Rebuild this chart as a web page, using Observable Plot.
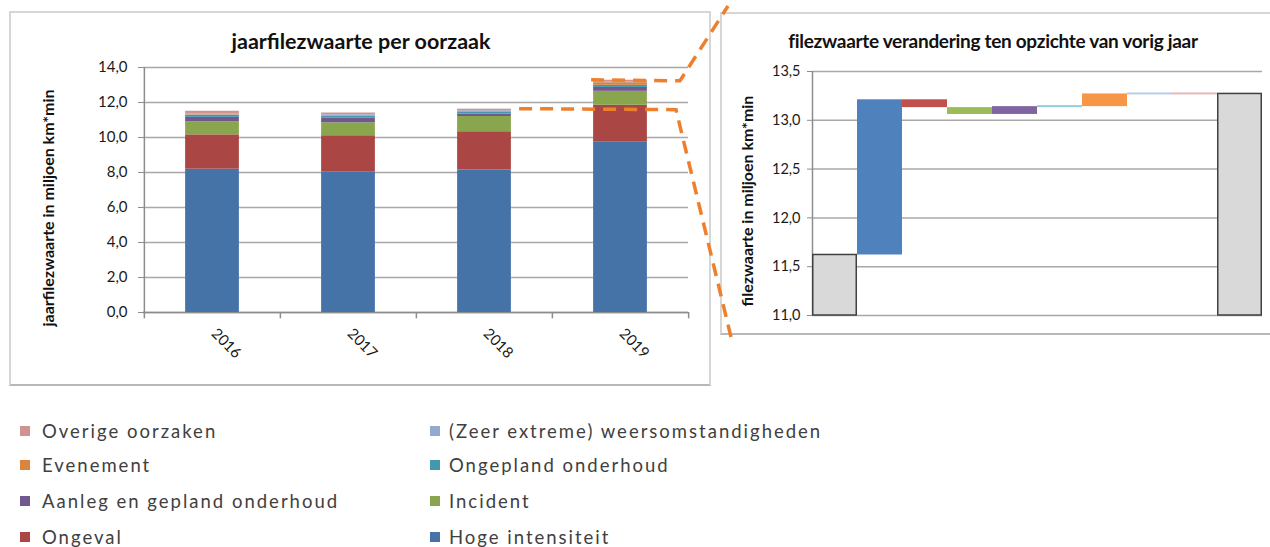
<!DOCTYPE html>
<html><head><meta charset="utf-8">
<script src="https://cdn.jsdelivr.net/npm/d3@7"></script>
<script src="https://cdn.jsdelivr.net/npm/@observablehq/plot@0.6"></script>
<style>
body{margin:0;background:#fff;font-family:Lato,"Open Sans",sans-serif;}
#page{position:relative;width:1270px;height:547px;overflow:hidden;background:#fff;}
.frame{position:absolute;box-sizing:border-box;border:2px solid #d6d6d6;border-bottom-color:#b8b8b8;}
.title{position:absolute;font-weight:bold;color:#111;white-space:nowrap;transform:translate(-50%,-50%);}
.ylab{position:absolute;font-weight:bold;color:#111;white-space:nowrap;transform:translate(-50%,-50%) rotate(-90deg);}
.leg{position:absolute;font-size:18.5px;color:#404040;letter-spacing:2px;white-space:nowrap;transform:translateY(-50%);}
.sw{position:absolute;width:10px;height:10px;transform:translateY(-50%);}
.chart{position:absolute;top:0;}
</style>
</head><body><div id="page"></div>
<script>
// ---------- data ----------
const years = ["2016", "2017", "2018", "2019"];
const causes = ["Hoge intensiteit", "Ongeval", "Incident", "Aanleg en gepland onderhoud",
  "Ongepland onderhoud", "Evenement", "(Zeer extreme) weersomstandigheden", "Overige oorzaken"];
const hogeIntensiteit = [8.19, 8.04, 8.14, 9.73];
const ongeval         = [1.96, 2.06, 2.19, 2.11];
const incident        = [0.75, 0.74, 0.87, 0.80];
const aanleg          = [0.25, 0.26, 0.14, 0.22];
const ongepland       = [0.12, 0.12, 0.12, 0.12];
const evenement       = [0.03, 0.03, 0.02, 0.15];
const weer            = [0.05, 0.05, 0.05, 0.05];
const overige         = [0.15, 0.10, 0.09, 0.09];
const series = [hogeIntensiteit, ongeval, incident, aanleg, ongepland, evenement, weer, overige];
const stackColors = ["#4572A7", "#AA4643", "#89A54E", "#71588F", "#4198AF", "#DB843D", "#93A9CF", "#D19392"];
const waterfallColors = ["#4F81BD", "#C0504D", "#9BBB59", "#8064A2", "#92CDDC", "#F79646", "#B9CDE5", "#E6B9B8"];
const legendRows = [
  ["Overige oorzaken", "(Zeer extreme) weersomstandigheden"],
  ["Evenement", "Ongepland onderhoud"],
  ["Aanleg en gepland onderhoud", "Incident"],
  ["Ongeval", "Hoge intensiteit"]
];
const leftTicks = [0, 2, 4, 6, 8, 10, 12, 14];
const rightTicks = [11, 11.5, 12, 12.5, 13, 13.5];
const leftTitle = "jaarfilezwaarte per oorzaak";
const rightTitle = "filezwaarte verandering ten opzichte van vorig jaar";
const leftYLabel = "jaarfilezwaarte  in  miljoen  km*min";
const rightYLabel = "filezwaarte in miljoen km*min";
const fromYear = "2018", toYear = "2019";

// ---------- helpers ----------
const comma = d => d.toFixed(1).replace(".", ",");
const page = document.getElementById("page");
function el(cls, css, text) {
  const d = document.createElement("div");
  d.className = cls; Object.assign(d.style, css);
  if (text != null) d.textContent = text;
  page.appendChild(d); return d;
}

// frames
el("frame", {left: "9px", top: "11px", width: "702px", height: "375px"});
el("frame", {left: "720px", top: "12px", width: "560px", height: "323px"});

// ---------- left stacked chart ----------
const rows = years.flatMap((y, i) => causes.map((c, j) => ({year: y, cause: c, value: series[j][i]})));
const L = {width: 711, height: 390, left: 143, right: 688, top: 67, bottom: 312};
const bwL = (L.right - L.left) / years.length;
const barW = 54;
const insL = (bwL - barW) / 2;
const axisGray = "#8c8c8c";
const left = Plot.plot({
  width: L.width, height: L.height,
  marginLeft: L.left, marginRight: L.width - L.right, marginTop: L.top, marginBottom: L.height - L.bottom,
  style: {background: "transparent", fontFamily: "Lato, sans-serif", fontSize: "15px", color: "#1a1a1a", overflow: "visible"},
  x: {type: "band", domain: years, padding: 0, axis: null},
  y: {domain: [0, 14], axis: null},
  color: {domain: causes, range: stackColors},
  marks: [
    Plot.gridY(leftTicks, {stroke: "#a8a8a8", strokeOpacity: 1, strokeWidth: 1.5}),
    Plot.axisY(leftTicks, {tickSize: 5, tickPadding: 11, tickFormat: comma, stroke: axisGray, label: null}),
    Plot.ruleX([years[0]], {dx: -bwL / 2, y1: 0, y2: 14, stroke: axisGray, strokeWidth: 1.5}),
    Plot.ruleY([0], {stroke: axisGray, strokeWidth: 1.5}),
    Plot.ruleX(years, {x: d => d, dx: -bwL / 2, y1: 0, y2: -0.36, stroke: axisGray, strokeWidth: 1.5}),
    Plot.ruleX([years[years.length - 1]], {dx: bwL / 2, y1: 0, y2: -0.36, stroke: axisGray, strokeWidth: 1.5}),
    Plot.barY(rows, {x: "year", y: "value", fill: "cause", insetLeft: insL, insetRight: insL}),
    Plot.text(years, {x: d => d, frameAnchor: "bottom", dy: 22, dx: -2, rotate: 45, textAnchor: "start", fontSize: 15, fill: "#1a1a1a"})
  ]
});
left.classList.add("chart"); left.style.left = "0px";
page.appendChild(left);

// ---------- right waterfall chart ----------
const i0 = years.indexOf(fromYear), i1 = years.indexOf(toYear);
const total0 = d3.sum(series, s => s[i0]);
const total1 = d3.sum(series, s => s[i1]);
const wfCats = [fromYear, ...causes, toYear];
let level = total0;
const steps = causes.map((c, j) => {
  const delta = series[j][i1] - series[j][i0];
  const s = {cat: c, y1: level, y2: level + delta, color: waterfallColors[j], delta};
  level += delta; return s;
});
const totals = [{cat: fromYear, value: total0}, {cat: toYear, value: total1}];
const R = {x0: 720, width: 550, height: 340, left: 812, right: 1262, top: 71, bottom: 315};
const bwR = (R.right - R.left) / wfCats.length;
const right = Plot.plot({
  width: R.width, height: R.height,
  marginLeft: R.left - R.x0, marginRight: R.x0 + R.width - R.right, marginTop: R.top, marginBottom: R.height - R.bottom,
  style: {background: "transparent", fontFamily: "Lato, sans-serif", fontSize: "14.5px", color: "#1a1a1a", overflow: "visible"},
  x: {type: "band", domain: wfCats, padding: 0, axis: null},
  y: {domain: [11, 13.5], axis: null},
  marks: [
    Plot.gridY(rightTicks, {stroke: "#a8a8a8", strokeOpacity: 1, strokeWidth: 1.5}),
    Plot.axisY(rightTicks, {tickSize: 5, tickPadding: 7, tickFormat: comma, stroke: axisGray, label: null}),
    Plot.ruleX([wfCats[0]], {dx: -bwR / 2, y1: 11, y2: 13.5, stroke: axisGray, strokeWidth: 1.5}),
    Plot.barY(totals, {x: "cat", y1: 11, y2: "value", fill: "#d9d9d9", stroke: "#404040", strokeWidth: 1.5, insetLeft: 0.75, insetRight: 0.75}),
    Plot.barY(steps.filter(d => Math.abs(d.delta) >= 0.01), {x: "cat", y1: "y1", y2: "y2", fill: "color"}),
    Plot.barY(steps.filter(d => Math.abs(d.delta) < 0.01), {x: "cat", y1: "y1", y2: "y2", fill: "color", insetTop: -1, insetBottom: -1})
  ]
});
right.classList.add("chart"); right.style.left = R.x0 + "px";
page.appendChild(right);

// titles & axis labels
el("title", {left: "361px", top: "41px", fontSize: "21.5px"}, leftTitle);
el("title", {left: "993px", top: "40px", fontSize: "19px", letterSpacing: "-0.3px"}, rightTitle);
el("ylab", {left: "47px", top: "208px", fontSize: "16px"}, leftYLabel);
el("ylab", {left: "746px", top: "201px", fontSize: "16px"}, rightYLabel);

// legend
const colorOf = c => stackColors[causes.indexOf(c)];
const rowY = [431, 465, 501, 537];
const colX = [[20, 42], [430, 449]];
legendRows.forEach((row, r) => row.forEach((c, k) => {
  el("sw", {left: colX[k][0] + "px", top: rowY[r] + "px", background: colorOf(c)});
  el("leg", {left: colX[k][1] + "px", top: rowY[r] + "px"}, c);
}));

// connector overlay (positions derived from the chart scales)
const xs = left.scale("x"), ys = left.scale("y");
const yTop0 = ys.apply(total0), yTop1 = ys.apply(total1);
const xBar0Right = xs.apply(fromYear) + bwL - insL;
const xBar1Left = xs.apply(toYear) + insL;
const cornerX = L.right - 12;
const svg = d3.select(page).append("svg")
  .attr("width", 1270).attr("height", 547)
  .style("position", "absolute").style("left", 0).style("top", 0).style("pointer-events", "none");
const line = d3.line();
const dashStyle = g => g.attr("fill", "none").attr("stroke", "#EE7F2D").attr("stroke-width", 3.5)
  .attr("stroke-dasharray", "13,8");
svg.append("path").attr("d", line([[xBar0Right + 8, yTop0], [cornerX, yTop0 + 1], [731, 337]])).call(dashStyle);
svg.append("path").attr("d", line([[xBar1Left - 2, yTop1], [cornerX + 4, yTop1 + 1], [728, 6]])).call(dashStyle);
</script>
</body></html>
